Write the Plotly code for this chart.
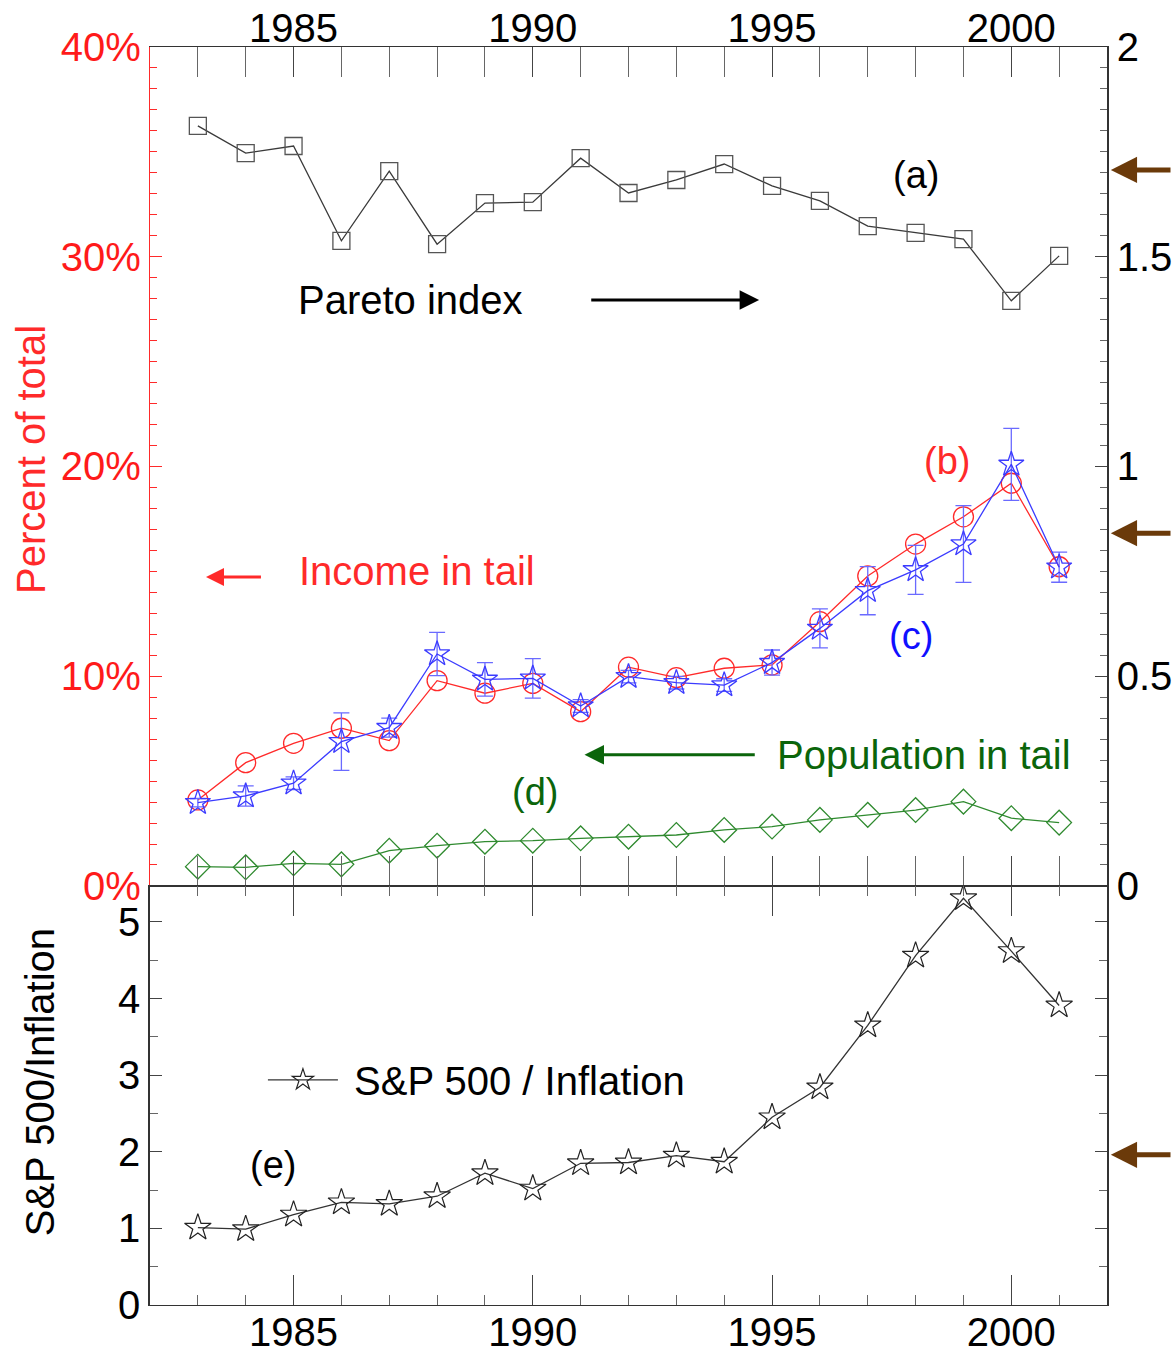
import plotly.graph_objects as go

years = list(range(1983, 2002))

pareto_index = [1.812, 1.747, 1.764, 1.538, 1.704, 1.530, 1.628, 1.630, 1.735, 1.652,
                1.683, 1.721, 1.669, 1.633, 1.573, 1.557, 1.542, 1.395, 1.502]

income_tail_pct = [4.1, 5.88, 6.8, 7.52, 6.93, 9.79, 9.19, 9.66, 8.31, 10.43,
                   9.93, 10.38, 10.54, 12.6, 14.78, 16.3, 17.6, 19.2, 15.22]

income_tail_c_pct = [3.97, 4.29, 4.9, 6.88, 7.55, 11.06, 9.85, 9.9, 8.58, 9.98,
                     9.69, 9.58, 10.65, 12.28, 14.08, 15.07, 16.3, 20.1, 15.2]

income_tail_c_err = [0.2, 0.48, 0.3, 1.37, 0.45, 1.03, 0.8, 0.94, 0.3, 0.3,
                     0.3, 0.3, 0.6, 0.93, 1.15, 1.17, 1.83, 1.72, 0.72]

population_tail_pct = [0.92, 0.89, 1.08, 1.03, 1.68, 1.92, 2.11, 2.16, 2.27, 2.35,
                       2.43, 2.67, 2.83, 3.15, 3.39, 3.62, 4.02, 3.23, 3.02]

sp500_inflation = [1.01, 0.99, 1.18, 1.34, 1.32, 1.42, 1.72, 1.52, 1.85, 1.86,
                   1.95, 1.87, 2.45, 2.84, 3.65, 4.56, 5.31, 4.62, 3.91]

FONT = "Liberation Sans, Arial, Helvetica, sans-serif"
RED = "#ff2a2a"
BLUE = "#3b3bff"
GREEN = "#2f8a2f"
DKGREEN = "#0b650b"
BROWN = "#6b3a0a"
SPLIT = 0.3331

fig = go.Figure()

fig.add_trace(go.Scatter(
    x=years, y=pareto_index, xaxis="x", yaxis="y3", mode="lines+markers",
    line=dict(color="#3a3a3a", width=1.3),
    marker=dict(symbol="square-open", size=17, color="#555555", line=dict(width=1.3)),
    showlegend=False, name="Pareto index"))

fig.add_trace(go.Scatter(
    x=years, y=income_tail_pct, xaxis="x", yaxis="y", mode="lines+markers",
    line=dict(color=RED, width=1.3),
    marker=dict(symbol="circle-open", size=20, color=RED, line=dict(width=1.3)),
    showlegend=False, name="Income in tail (b)"))

fig.add_trace(go.Scatter(
    x=years, y=income_tail_c_pct, xaxis="x", yaxis="y", mode="lines+markers",
    line=dict(color=BLUE, width=1.3),
    marker=dict(symbol="star-open", size=19, color=BLUE, line=dict(width=1.3)),
    error_y=dict(type="data", array=income_tail_c_err, visible=True,
                 color="#6a6aff", thickness=1.3, width=8),
    showlegend=False, name="Income in tail (c)"))

fig.add_trace(go.Scatter(
    x=years, y=population_tail_pct, xaxis="x", yaxis="y", mode="lines+markers",
    line=dict(color=GREEN, width=1.3),
    marker=dict(symbol="diamond-open", size=19, color=GREEN, line=dict(width=1.3)),
    showlegend=False, name="Population in tail"))

fig.add_trace(go.Scatter(
    x=years, y=sp500_inflation, xaxis="x2", yaxis="y2", mode="lines+markers",
    line=dict(color="#333333", width=1.3),
    marker=dict(symbol="star-open", size=20, color="#222222", line=dict(width=1.2)),
    showlegend=True, name="\u00a0S&P 500 / Inflation"))

xcommon = dict(range=[1982, 2002], tickmode="linear", tick0=1985, dtick=5,
               ticks="inside", ticklen=30, tickwidth=1, tickcolor="#444",
               showline=True, linecolor="#333", linewidth=1.2, mirror="allticks",
               showgrid=False, zeroline=False,
               tickfont=dict(size=40, color="black", family=FONT),
               minor=dict(dtick=1, ticklen=10, ticks="inside", tickcolor="#666", showgrid=False))

fig.update_layout(
    width=1172, height=1352,
    margin=dict(l=150, r=65, t=47, b=47, autoexpand=False),
    paper_bgcolor="white", plot_bgcolor="white",
    font=dict(family=FONT, size=40, color="black"),
    xaxis=dict(domain=[0, 1], anchor="y", side="top", ticklabelstandoff=-12, **xcommon),
    xaxis2=dict(domain=[0, 1], anchor="y2", side="bottom", matches="x",
                ticklabelstandoff=-8, **xcommon),
    yaxis=dict(domain=[SPLIT, 1], anchor="x", range=[0, 40], tickmode="linear",
               tick0=0, dtick=10, ticksuffix="%", ticks="inside", ticklen=12,
               tickcolor=RED, showline=True, linecolor=RED, linewidth=1.2,
               mirror=False, showgrid=False, zeroline=False,
               tickfont=dict(size=40, color="#ff1a1a", family=FONT),
               minor=dict(dtick=1, ticklen=7, ticks="inside", tickcolor=RED, showgrid=False)),
    yaxis3=dict(overlaying="y", side="right", anchor="x", range=[0, 2],
                tickmode="linear", tick0=0, dtick=0.5, ticks="inside", ticklen=12,
                tickcolor="#444", showline=True, linecolor="#333", linewidth=1.5,
                showgrid=False, zeroline=False,
                tickfont=dict(size=40, color="black", family=FONT),
                minor=dict(dtick=0.05, ticklen=7, ticks="inside", tickcolor="#666", showgrid=False)),
    yaxis2=dict(domain=[0, SPLIT], anchor="x2", range=[0, 5.47], tickmode="linear",
                tick0=0, dtick=1, ticks="inside", ticklen=12, tickcolor="#444",
                showline=True, linecolor="#333", linewidth=1.5, mirror="allticks",
                showgrid=False, zeroline=False,
                tickfont=dict(size=40, color="black", family=FONT),
                minor=dict(dtick=0.5, ticklen=8, ticks="inside", tickcolor="#666", showgrid=False)),
    legend=dict(x=0.118, y=0.179, xanchor="left", yanchor="middle",
                bgcolor="rgba(0,0,0,0)", font=dict(size=40, color="black", family=FONT),
                itemsizing="trace", itemwidth=70),
)

ann = []
def txt(x, y, s, color, xref="x", yref="y", size=40, angle=0):
    ann.append(dict(x=x, y=y, xref=xref, yref=yref, text=s, showarrow=False,
                    font=dict(size=size, color=color, family=FONT),
                    xanchor="center", yanchor="middle", textangle=angle))

txt(1987.44, 27.94, "Pareto index", "black")
txt(1998.0, 33.9, "(a)", "black", size=38)
txt(1987.58, 15.02, "Income in tail", RED)
txt(1998.65, 20.26, "(b)", RED, size=38)
txt(1997.9, 11.92, "(c)", "#1010ff", size=38)
txt(1998.17, 6.25, "Population in tail", DKGREEN)
txt(1990.04, 4.48, "(d)", DKGREEN, size=38)
txt(1984.56, 1.83, "(e)", "black", xref="x2", yref="y2", size=38)
txt(-0.125, 0.672, "Percent of total", RED, xref="paper", yref="paper", angle=-90)
txt(-0.115, 0.177, "S&P 500/Inflation", "black", xref="paper", yref="paper", angle=-90)

def arrow(x, y, ax, ay, color, width, xref="x", yref="y", size=1.0):
    ann.append(dict(x=x, y=y, ax=ax, ay=ay, xref=xref, yref=yref,
                    axref=xref, ayref=yref, text="", showarrow=True,
                    arrowhead=2, arrowsize=size, arrowwidth=width, arrowcolor=color))

arrow(1994.73, 27.94, 1991.19, 27.94, "black", 3, size=1.3)
arrow(1983.17, 14.73, 1984.35, 14.73, RED, 3, size=1.2)
arrow(1991.08, 6.25, 1994.67, 6.25, DKGREEN, 3, size=1.3)

# brown arrows at right edge (outside the plot area)
for yv, yr in [(1.707, "y3"), (0.841, "y3"), (1.96, "y2")]:
    ann.append(dict(x=1.004, y=yv, xref="paper", yref=yr, ax=62, ay=0,
                    text="", showarrow=True, arrowhead=2, arrowsize=1.05,
                    arrowwidth=5, arrowcolor=BROWN))

fig.update_layout(annotations=ann)

fig.write_html("out.html")
